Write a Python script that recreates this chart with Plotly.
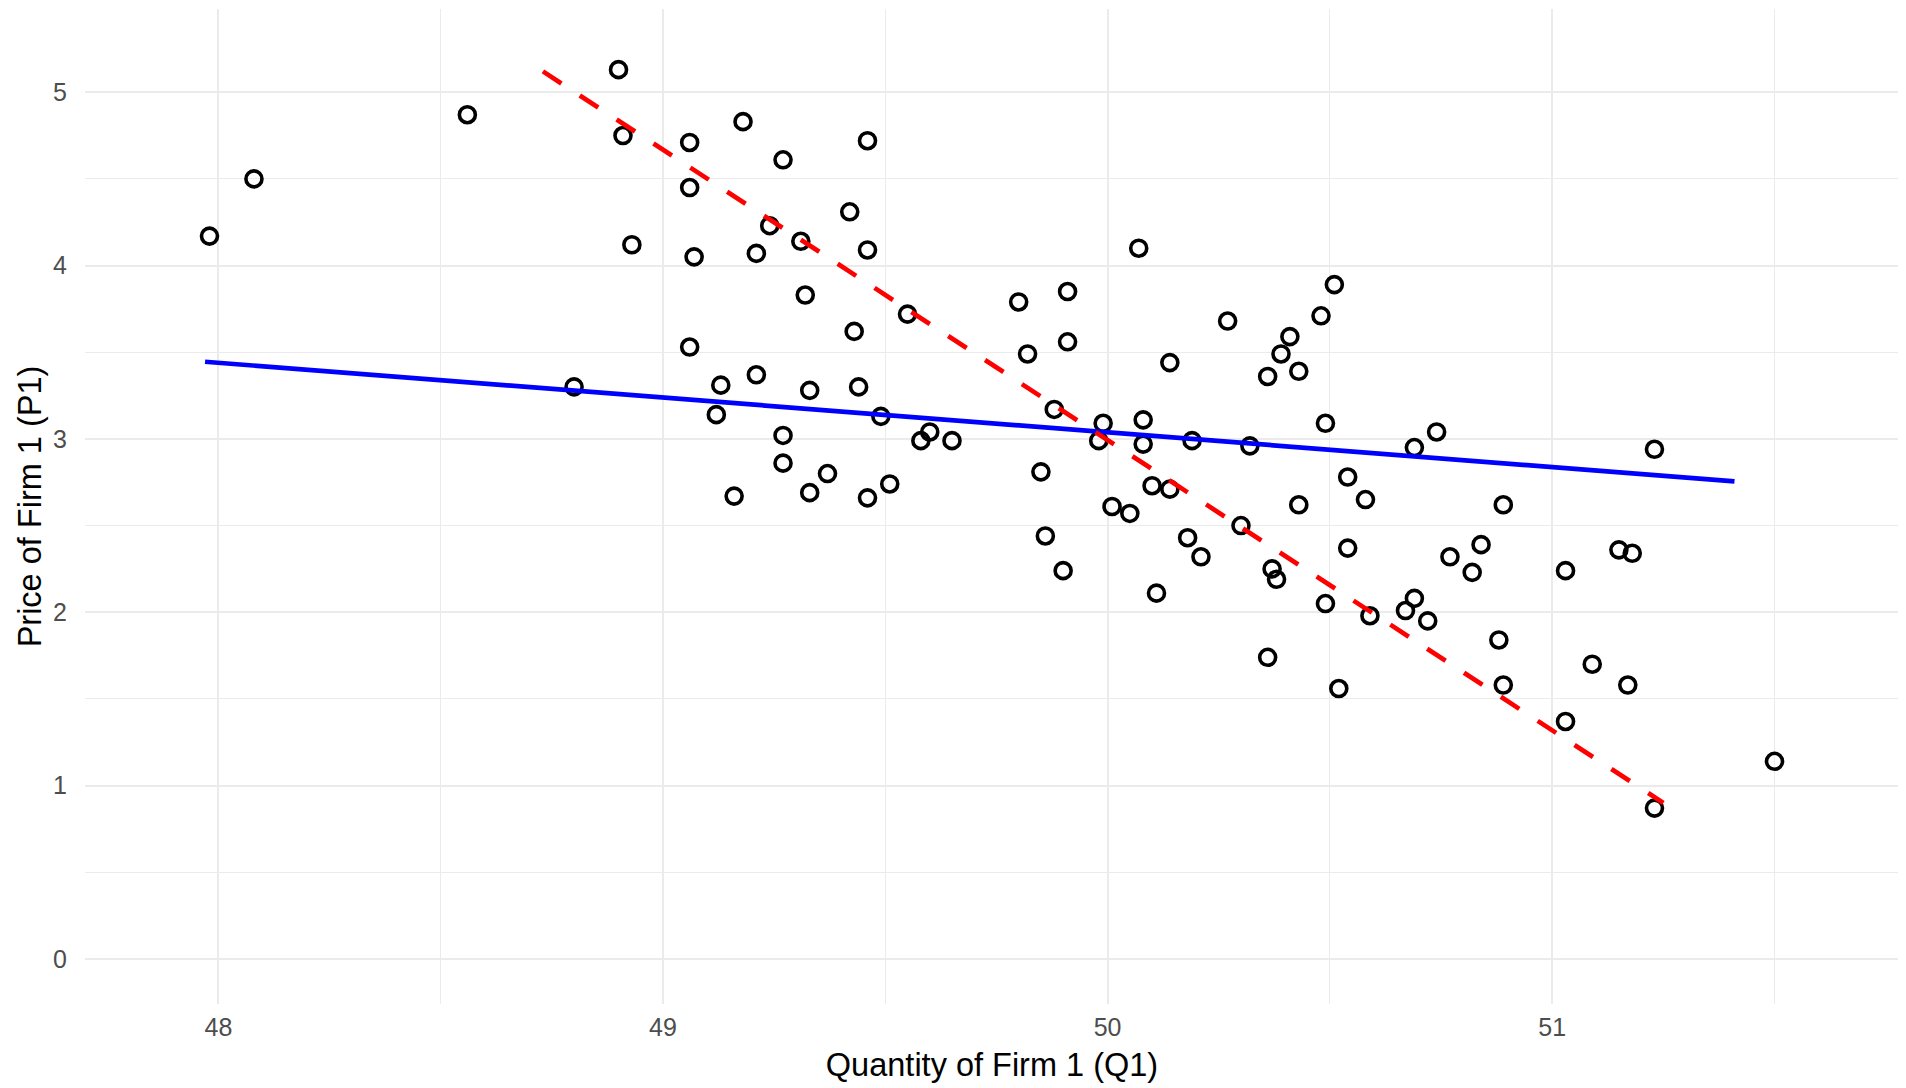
import plotly.graph_objects as go

# Observed data: quantity (Q1) and price (P1) of firm 1
q1 = [47.98, 48.08, 48.56, 48.90, 48.91, 48.93, 48.80, 49.06, 49.06, 49.07,
      49.06, 49.18, 49.27, 49.24, 49.21, 49.31, 49.32, 49.42, 49.46, 49.46,
      49.43, 49.55, 49.13, 49.12, 49.21, 49.33, 49.44, 49.49, 49.27, 49.27,
      49.16, 49.33, 49.37, 49.46, 49.51, 49.58, 49.60, 49.65, 49.80, 49.82,
      49.91, 49.91, 49.88, 49.85, 49.86, 49.90, 49.99, 49.98, 50.07, 50.08,
      50.08, 50.01, 50.05, 50.10, 50.14, 50.14, 50.19, 50.18, 50.21, 50.11,
      50.27, 50.32, 50.30, 50.36, 50.39, 50.41, 50.43, 50.48, 50.51, 50.49,
      50.37, 50.38, 50.43, 50.36, 50.49, 50.54, 50.58, 50.54, 50.52, 50.59,
      50.69, 50.74, 50.67, 50.69, 50.72, 50.77, 50.82, 50.84, 50.89, 50.88,
      50.89, 51.03, 51.03, 51.09, 51.15, 51.18, 51.17, 51.23, 51.23, 51.50]
p1 = [4.17, 4.50, 4.87, 5.13, 4.75, 4.12, 3.30, 4.71, 4.45, 4.05,
      3.53, 4.83, 4.61, 4.23, 4.07, 4.14, 3.83, 4.31, 4.72, 4.09,
      3.62, 3.72, 3.31, 3.14, 3.37, 3.28, 3.30, 3.13, 3.02, 2.86,
      2.67, 2.69, 2.80, 2.66, 2.74, 2.99, 3.04, 2.99, 3.79, 3.49,
      3.85, 3.56, 3.17, 2.81, 2.44, 2.24, 3.09, 2.99, 4.10, 3.11,
      2.97, 2.61, 2.57, 2.73, 2.71, 3.44, 2.99, 2.43, 2.32, 2.11,
      3.68, 2.96, 2.50, 3.36, 3.49, 3.59, 3.39, 3.71, 3.89, 3.09,
      2.25, 2.19, 2.62, 1.74, 2.05, 2.78, 2.65, 2.37, 1.56, 1.98,
      2.95, 3.04, 2.01, 2.08, 1.95, 2.32, 2.23, 2.39, 2.62, 1.84,
      1.58, 2.24, 1.37, 1.70, 2.36, 2.34, 1.58, 2.94, 0.87, 1.14]

# Fitted lines (endpoints)
ols_q = [47.97, 51.41]
ols_p = [3.445, 2.755]
iv_q = [48.73, 51.25]
iv_p = [5.12, 0.90]

x_ticks = [48, 49, 50, 51]
y_ticks = [0, 1, 2, 3, 4, 5]

fig = go.Figure()
fig.add_trace(go.Scatter(
    x=q1, y=p1, mode="markers",
    marker=dict(symbol="circle-open", size=16, color="black",
                line=dict(width=3.6, color="black")),
    showlegend=False, hoverinfo="x+y"))
fig.add_trace(go.Scatter(
    x=ols_q, y=ols_p, mode="lines",
    line=dict(color="#0000FF", width=4.7), showlegend=False))
fig.add_trace(go.Scatter(
    x=iv_q, y=iv_p, mode="lines",
    line=dict(color="#FF0000", width=4.7, dash="22px,22px"), showlegend=False))

grid_major = "#EBEBEB"
fig.update_layout(
    width=1906, height=1088,
    plot_bgcolor="white", paper_bgcolor="white",
    margin=dict(l=77, r=15, t=1, b=92, autoexpand=False),
    font=dict(family="Liberation Sans, Arial, sans-serif", color="black"),
    xaxis=dict(
        range=[47.70, 51.78], tickvals=x_ticks,
        ticktext=[str(v) for v in x_ticks],
        showgrid=True, gridcolor=grid_major, gridwidth=2.2,
        zeroline=False, showline=False, ticks="",
        tickfont=dict(size=25, color="#4D4D4D"),
        ticklabelstandoff=6,
        minor=dict(dtick=0.5, tick0=0, showgrid=True, gridcolor=grid_major, gridwidth=1.1),
        title=dict(text="Quantity of Firm 1 (Q1)", font=dict(size=32.5, color="black"), standoff=13),
    ),
    yaxis=dict(
        range=[-0.26, 5.48], tickvals=y_ticks,
        ticktext=[str(v) for v in y_ticks],
        showgrid=True, gridcolor=grid_major, gridwidth=2.2,
        zeroline=False, showline=False, ticks="",
        tickfont=dict(size=25, color="#4D4D4D"),
        ticklabelstandoff=17,
        minor=dict(dtick=0.5, tick0=0, showgrid=True, gridcolor=grid_major, gridwidth=1.1),
        title=dict(text="Price of Firm 1 (P1)", font=dict(size=32.5, color="black"), standoff=1),
    ),
)

fig.write_html("out.html")
